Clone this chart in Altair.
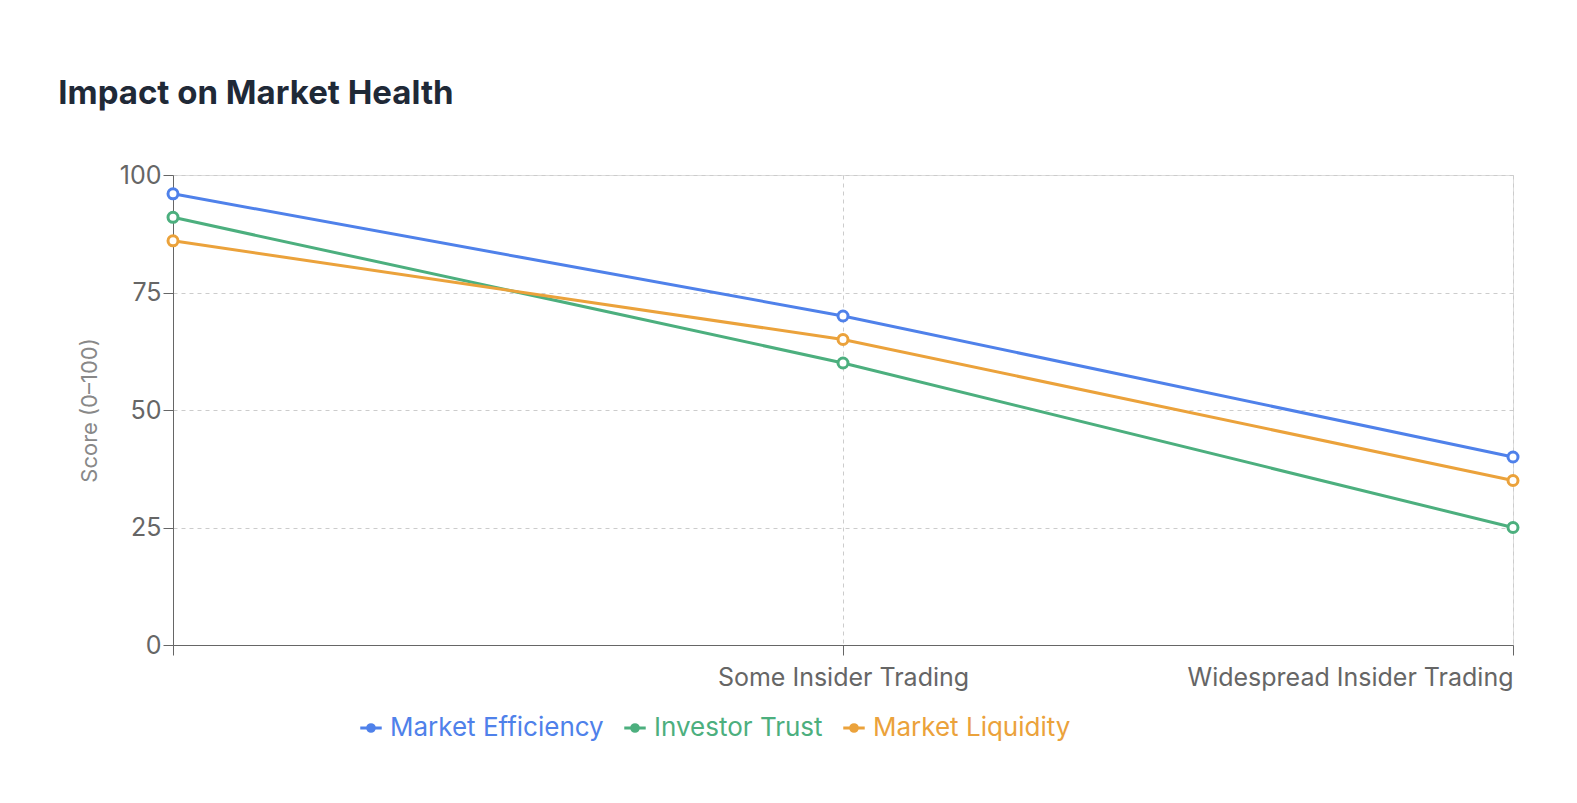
import altair as alt
import pandas as pd

categories = ['No Insider Trading', 'Some Insider Trading', 'Widespread Insider Trading']
series = ['Market Efficiency', 'Investor Trust', 'Market Liquidity']
colors = ['#4f81ea', '#4caf7e', '#eba23b']
market_efficiency = [96, 70, 40]
investor_trust = [91, 60, 25]
market_liquidity = [86, 65, 35]

rows = []
for name, vals in zip(series, [market_efficiency, investor_trust, market_liquidity]):
  for c, v in zip(categories, vals):
    rows.append({'Scenario': c, 'Metric': name, 'Score': v})
df = pd.DataFrame(rows)

color_expr = (
  "datum.value == 'Market Efficiency' ? '%s' : datum.value == 'Investor Trust' ? '%s' : '%s'"
  % tuple(colors)
)
legend_symbol = (
  'M -1.6 0 L -0.5 0 M 0.5 0 L 1.6 0 '
  'M -0.5 0 A 0.5 0.5 0 1 1 0.5 0 A 0.5 0.5 0 1 1 -0.5 0'
)

base = alt.Chart(df).encode(
  x=alt.X(
    'Scenario:N', sort=categories, title=None,
    scale=alt.Scale(type='point', padding=0),
    axis=alt.Axis(
      labelExpr="datum.index == 0 ? '' : datum.label",
      labelAlign=alt.ExprRef("datum.index == 1 ? 'right' : 'center'"),
      labelAngle=0, labelFontSize=25, labelColor='#666666', labelPadding=10,
      labelLimit=0, labelOverlap=False,
      grid=True, gridDash=[4, 4], gridColor='#cccccc',
      domainColor='#666666', tickColor='#666666', tickSize=10
    )
  ),
  y=alt.Y(
    'Score:Q', title='Score (0–100)',
    scale=alt.Scale(domain=[0, 100]),
    axis=alt.Axis(
      values=[0, 25, 50, 75, 100], labelFontSize=25, labelColor='#666666',
      titleFontSize=22, titleColor='#888888', titleFontWeight='normal', titlePadding=18,
      gridDash=[4, 4], gridColor='#cccccc',
      domainColor='#666666', tickColor='#666666', tickSize=10
    )
  ),
  color=alt.Color(
    'Metric:N', sort=series, title=None,
    scale=alt.Scale(domain=series, range=colors),
    legend=alt.Legend(
      orient='none', legendX=185, legendY=540, direction='horizontal',
      symbolType=legend_symbol, symbolSize=180, symbolStrokeWidth=3,
      symbolFillColor='white', labelFontSize=26, labelLimit=0,
      labelColor=alt.ExprRef(color_expr), columnPadding=14, labelOffset=6
    )
  )
)

lines = base.mark_line(strokeWidth=3)
points = base.mark_point(filled=True, fill='white', size=100, strokeWidth=3, opacity=1).encode(
  stroke=alt.Color('Metric:N', sort=series, scale=alt.Scale(domain=series, range=colors), legend=None)
)

chart = alt.layer(lines, points).properties(
  width=1340, height=470,
  padding={'left': 50, 'top': 70, 'right': 40, 'bottom': 10},
  title=alt.TitleParams(
    'Impact on Market Health', anchor='start', fontSize=33, fontWeight='bold',
    color='#1f2937', offset=52, dx=-20
  )
).configure_view(stroke=None).configure(font='Inter')

chart.save("out.html", embed_options={"renderer": "svg", "actions": False})
